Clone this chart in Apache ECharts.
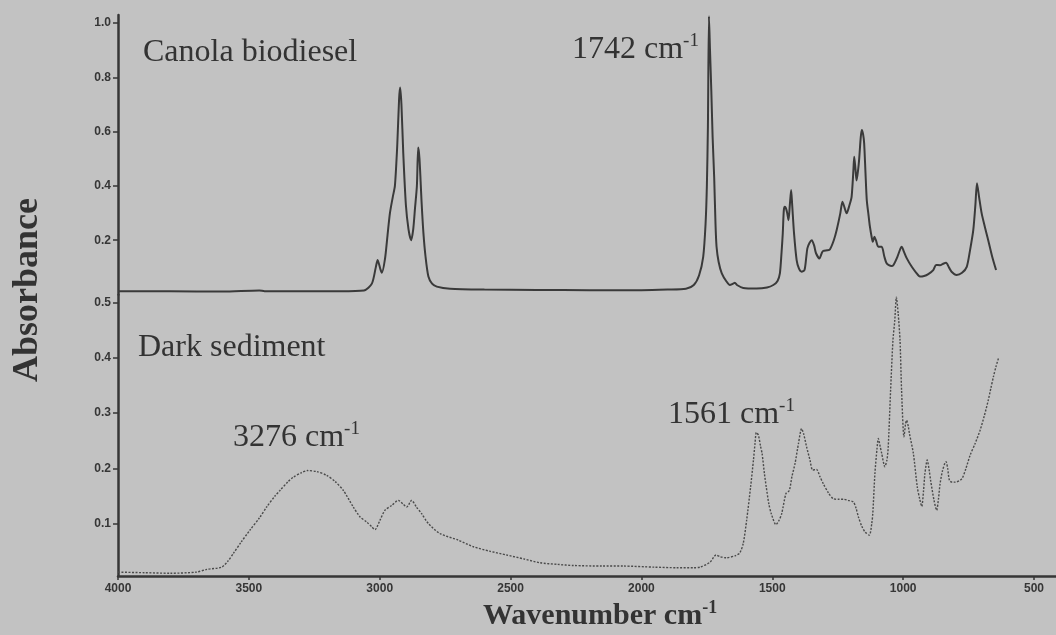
<!DOCTYPE html>
<html>
<head>
<meta charset="utf-8">
<script src="https://cdn.jsdelivr.net/npm/echarts/dist/echarts.min.js"></script>
<style>
  html, body { margin: 0; padding: 0; background: #c2c2c2; }
  #chart { width: 1056px; height: 635px; }
</style>
</head>
<body>
<div id="chart"></div>
<script>
// FTIR spectra: canola biodiesel (upper panel) and dark sediment (lower panel)

const canolaWn = [4000, 3800, 3600, 3460, 3440, 3300, 3150, 3060, 3030, 3015, 3008, 2998, 2992, 2980, 2970, 2961, 2950, 2942, 2933, 2926, 2922, 2917, 2910, 2900, 2890, 2880, 2872, 2865, 2858, 2853, 2848, 2840, 2833, 2825, 2814, 2800, 2782, 2731, 2600, 2400, 2200, 2000, 1900, 1830, 1800, 1780, 1764, 1755, 1750, 1746, 1742, 1738, 1733, 1728, 1722, 1717, 1713, 1705, 1693, 1675, 1662, 1650, 1643, 1635, 1611, 1560, 1520, 1496, 1480, 1471, 1465, 1460, 1456, 1452, 1448, 1443, 1438, 1433, 1428, 1424, 1417, 1407, 1398, 1388, 1377, 1370, 1366, 1358, 1349, 1340, 1333, 1320, 1310, 1305, 1290, 1280, 1265, 1254, 1240, 1232, 1224, 1216, 1205, 1197, 1190, 1187, 1182, 1178, 1172, 1168, 1162, 1158, 1153, 1149, 1144, 1139, 1132, 1127, 1120, 1116, 1110, 1104, 1095, 1082, 1072, 1063, 1045, 1037, 1022, 1010, 1005, 998, 986, 967, 950, 936, 920, 904, 885, 874, 859, 850, 836, 825, 815, 796, 775, 757, 745, 732, 724, 718, 710, 700, 688, 675, 660, 645];
const canolaAbs = [0.012, 0.012, 0.011, 0.015, 0.012, 0.012, 0.012, 0.015, 0.04, 0.1, 0.127, 0.095, 0.08, 0.13, 0.22, 0.30, 0.36, 0.40, 0.55, 0.72, 0.763, 0.70, 0.52, 0.33, 0.24, 0.20, 0.24, 0.32, 0.40, 0.542, 0.50, 0.34, 0.226, 0.14, 0.066, 0.04, 0.029, 0.021, 0.018, 0.017, 0.016, 0.016, 0.018, 0.021, 0.035, 0.07, 0.139, 0.26, 0.40, 0.62, 1.025, 0.90, 0.75, 0.58, 0.43, 0.26, 0.176, 0.12, 0.078, 0.048, 0.035, 0.04, 0.043, 0.035, 0.024, 0.022, 0.026, 0.035, 0.05, 0.078, 0.15, 0.225, 0.31, 0.323, 0.318, 0.30, 0.274, 0.33, 0.385, 0.33, 0.226, 0.127, 0.095, 0.084, 0.09, 0.14, 0.17, 0.19, 0.20, 0.18, 0.152, 0.133, 0.155, 0.161, 0.163, 0.166, 0.20, 0.238, 0.30, 0.342, 0.32, 0.299, 0.33, 0.36, 0.46, 0.508, 0.46, 0.42, 0.46, 0.50, 0.58, 0.606, 0.59, 0.557, 0.45, 0.348, 0.29, 0.25, 0.21, 0.194, 0.213, 0.20, 0.176, 0.176, 0.14, 0.115, 0.105, 0.109, 0.139, 0.17, 0.176, 0.16, 0.133, 0.102, 0.08, 0.066, 0.068, 0.075, 0.09, 0.109, 0.108, 0.112, 0.117, 0.10, 0.084, 0.072, 0.08, 0.102, 0.16, 0.238, 0.33, 0.41, 0.36, 0.299, 0.25, 0.20, 0.14, 0.09];

const sedimentWn = [4000, 3900, 3800, 3700, 3661, 3604, 3580, 3559, 3530, 3496, 3460, 3432, 3400, 3381, 3350, 3330, 3300, 3276, 3240, 3203, 3170, 3139, 3101, 3075, 3050, 3030, 3018, 3000, 2980, 2954, 2929, 2910, 2897, 2878, 2860, 2840, 2814, 2770, 2700, 2642, 2580, 2515, 2450, 2388, 2320, 2260, 2150, 2069, 1950, 1865, 1800, 1776, 1738, 1715, 1700, 1676, 1640, 1624, 1611, 1598, 1583, 1572, 1566, 1561, 1553, 1545, 1539, 1530, 1523, 1513, 1504, 1486, 1475, 1464, 1448, 1435, 1425, 1413, 1400, 1388, 1380, 1369, 1356, 1346, 1331, 1318, 1305, 1285, 1267, 1245, 1228, 1210, 1190, 1180, 1171, 1158, 1146, 1129, 1120, 1116, 1108, 1100, 1095, 1088, 1082, 1070, 1062, 1057, 1048, 1039, 1032, 1026, 1019, 1012, 1006, 997, 991, 987, 980, 976, 961, 946, 937, 929, 922, 917, 908, 900, 895, 882, 872, 865, 859, 850, 840, 836, 830, 823, 812, 802, 776, 760, 744, 725, 706, 690, 675, 665, 655, 645, 636];
const sedimentAbs = [0.012, 0.011, 0.010, 0.012, 0.017, 0.021, 0.032, 0.046, 0.066, 0.088, 0.11, 0.13, 0.15, 0.16, 0.176, 0.184, 0.192, 0.196, 0.194, 0.1875, 0.176, 0.16, 0.13, 0.112, 0.103, 0.094, 0.089, 0.105, 0.124, 0.133, 0.142, 0.135, 0.13, 0.142, 0.13, 0.118, 0.10, 0.082, 0.07, 0.058, 0.05, 0.043, 0.036, 0.029, 0.026, 0.024, 0.023, 0.023, 0.021, 0.020, 0.020, 0.021, 0.030, 0.043, 0.04, 0.038, 0.042, 0.047, 0.064, 0.106, 0.166, 0.215, 0.245, 0.265, 0.26, 0.24, 0.227, 0.19, 0.166, 0.135, 0.118, 0.098, 0.105, 0.118, 0.154, 0.16, 0.185, 0.209, 0.245, 0.272, 0.262, 0.239, 0.215, 0.197, 0.198, 0.185, 0.172, 0.155, 0.145, 0.144, 0.144, 0.142, 0.139, 0.128, 0.112, 0.095, 0.085, 0.079, 0.10, 0.118, 0.19, 0.235, 0.254, 0.24, 0.227, 0.203, 0.215, 0.239, 0.341, 0.432, 0.468, 0.51, 0.48, 0.432, 0.341, 0.257, 0.28, 0.287, 0.275, 0.263, 0.227, 0.166, 0.145, 0.131, 0.16, 0.19, 0.215, 0.195, 0.178, 0.142, 0.124, 0.145, 0.172, 0.195, 0.21, 0.212, 0.2, 0.178, 0.175, 0.175, 0.181, 0.2, 0.224, 0.245, 0.269, 0.295, 0.323, 0.345, 0.366, 0.385, 0.399];

const xTicks = [4000, 3500, 3000, 2500, 2000, 1500, 1000, 500];
const yTicksTop = [0.2, 0.4, 0.6, 0.8, 1.0];
const yTicksBottom = [0.1, 0.2, 0.3, 0.4, 0.5];

const toPairs = (xs, ys) => xs.map((x, i) => [x, ys[i]]);

const INK = '#363636';
const tickFont = { fontFamily: 'Liberation Sans', fontWeight: 'bold', fontSize: 12, color: INK };
const serif = '"Liberation Serif", "Times New Roman", serif';

function makeXAxis(gridIndex, visible) {
  return {
    type: 'value', gridIndex, inverse: true, min: 416, max: 4000,
    show: visible,
    splitLine: { show: false },
    axisLine: { show: visible, onZero: false, lineStyle: { color: INK, width: 2.5 } },
    axisTick: { show: visible, customValues: xTicks, length: 4, lineStyle: { color: INK, width: 1.5 } },
    axisLabel: { show: visible, customValues: xTicks, margin: 7, formatter: v => String(v), ...tickFont }
  };
}

function makeYAxis(gridIndex, min, max, ticks) {
  return {
    type: 'value', gridIndex, min, max,
    splitLine: { show: false },
    axisLine: { show: true, lineStyle: { color: INK, width: 2.5 } },
    axisTick: { show: true, customValues: ticks, length: 5, lineStyle: { color: INK, width: 1.5 } },
    axisLabel: { customValues: ticks, margin: 7, formatter: v => v.toFixed(1), ...tickFont }
  };
}

function peakLabel(text, x, y) {
  return {
    type: 'text', left: x, top: y,
    style: {
      text: '{n|' + text + '}{s|-1}',
      fill: '#333',
      rich: {
        n: { fontFamily: serif, fontSize: 32, lineHeight: 36, fill: '#333' },
        s: { fontFamily: serif, fontSize: 19, lineHeight: 20, verticalAlign: 'top', fill: '#333' }
      }
    }
  };
}

const chart = echarts.init(document.getElementById('chart'), null, { renderer: 'canvas' });
chart.setOption({
  backgroundColor: '#c2c2c2',
  animation: false,
  grid: [
    { left: 118, right: 0, top: 15, height: 279.5 },
    { left: 118, right: 0, top: 295, height: 281 }
  ],
  xAxis: [makeXAxis(0, false), makeXAxis(1, true)],
  yAxis: [makeYAxis(0, 0, 1.03, yTicksTop), makeYAxis(1, 0.005, 0.514, yTicksBottom)],
  series: [
    {
      name: 'Canola biodiesel', type: 'line', xAxisIndex: 0, yAxisIndex: 0,
      data: toPairs(canolaWn, canolaAbs), showSymbol: false, smooth: 0.25,
      lineStyle: { color: '#3a3a3a', width: 2 }
    },
    {
      name: 'Dark sediment', type: 'line', xAxisIndex: 1, yAxisIndex: 1,
      data: toPairs(sedimentWn, sedimentAbs), showSymbol: false, smooth: 0.25,
      lineStyle: { color: '#4a4a4a', width: 1.4, type: [2, 1.5] }
    }
  ],
  graphic: [
    { type: 'text', left: 143, top: 37, style: { text: 'Canola biodiesel', font: '32px ' + serif, fill: '#333' } },
    { type: 'text', left: 138, top: 332, style: { text: 'Dark sediment', font: '32px ' + serif, fill: '#333' } },
    peakLabel('1742 cm', 572, 32),
    peakLabel('3276 cm', 233, 420),
    peakLabel('1561 cm', 668, 397),
    {
      type: 'text', left: 483, top: 599,
      style: {
        text: '{n|Wavenumber cm}{s|-1}',
        rich: {
          n: { fontFamily: serif, fontWeight: 'bold', fontSize: 30, lineHeight: 34, fill: '#333' },
          s: { fontFamily: serif, fontWeight: 'bold', fontSize: 18, lineHeight: 18, verticalAlign: 'top', fill: '#333' }
        }
      }
    },
    {
      type: 'text', x: 28, y: 290, rotation: Math.PI / 2,
      style: { text: 'Absorbance', font: 'bold 36px ' + serif, fill: '#333', align: 'center', verticalAlign: 'middle' }
    }
  ]
});
</script>
</body>
</html>
